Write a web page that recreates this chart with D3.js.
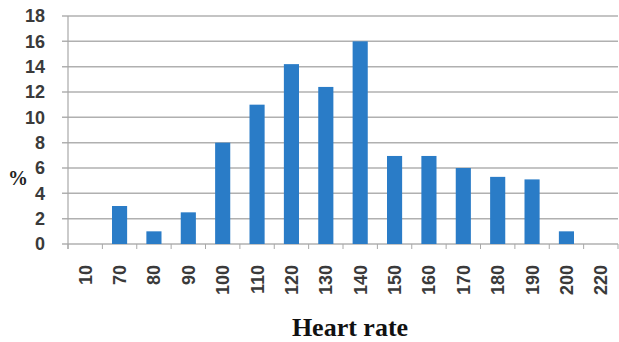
<!DOCTYPE html>
<html><head><meta charset="utf-8">
<script src="https://cdn.jsdelivr.net/npm/d3@7"></script>
<style>body{margin:0;background:#fff}svg{display:block}</style>
</head><body>
<script>
const categories = ["10","70","80","90","100","110","120","130","140","150","160","170","180","190","200","220"];
const values = [0,3,1,2.5,8,11,14.2,12.4,16,6.95,6.95,6,5.3,5.1,1,0];
const yTicks = [0,2,4,6,8,10,12,14,16,18];
const xTitle = "Heart rate";
const yTitle = "%";

const W=619,H=342;
const m={left:68,right:1,top:16,bottom:98};
const svg=d3.select("body").append("svg").attr("width",W).attr("height",H);
const x=d3.scaleBand().domain(categories).range([m.left,W-m.right]).paddingInner(0.56).paddingOuter(0.28);
const xb=d3.scaleBand().domain(categories).range([m.left,W-m.right]);
const y=d3.scaleLinear().domain([0,18]).range([H-m.bottom,m.top]);

// gridlines
svg.append("g").selectAll("line").data(yTicks).join("line")
 .attr("x1",m.left-6).attr("x2",W-m.right).attr("y1",d=>y(d)).attr("y2",d=>y(d))
 .attr("stroke","#b0b0b0").attr("stroke-width",1.5);
// y axis line
svg.append("line").attr("x1",m.left).attr("x2",m.left).attr("y1",y(18)).attr("y2",y(0)+5)
 .attr("stroke","#a8a8a8").attr("stroke-width",1.2);
// x tick marks
svg.append("g").selectAll("line").data(categories.concat(["end"])).join("line")
 .attr("x1",(d,i)=>m.left+i*xb.step()).attr("x2",(d,i)=>m.left+i*xb.step())
 .attr("y1",y(0)).attr("y2",y(0)+5).attr("stroke","#a8a8a8").attr("stroke-width",1);

// bars
svg.append("g").selectAll("rect").data(values).join("rect")
 .attr("x",(d,i)=>x(categories[i])).attr("width",x.bandwidth())
 .attr("y",d=>y(d)).attr("height",d=>y(0)-y(d)).attr("fill","#2a7cc7");

// y labels
svg.append("g").selectAll("text").data(yTicks).join("text")
 .attr("x",45).attr("y",d=>y(d)).attr("dy","0.36em").attr("text-anchor","end")
 .attr("font-family","Liberation Sans, Arial, sans-serif").attr("font-weight","bold")
 .attr("font-size",18).attr("fill","#3a3a3a").text(d=>d);
// x labels
svg.append("g").selectAll("text").data(categories).join("text")
 .attr("transform",d=>`translate(${xb(d)+xb.bandwidth()/2},${y(0)+21}) rotate(-90)`)
 .attr("dy","0.36em").attr("text-anchor","end")
 .attr("font-family","Liberation Sans, Arial, sans-serif").attr("font-weight","bold")
 .attr("font-size",18).attr("fill","#3a3a3a").text(d=>d);
// titles
svg.append("text").attr("x",350).attr("y",336).attr("text-anchor","middle")
 .attr("font-family","Liberation Serif, Times New Roman, serif").attr("font-weight","bold")
 .attr("font-size",26).attr("fill","#111").text(xTitle);
svg.append("text").attr("x",18).attr("y",185).attr("text-anchor","middle")
 .attr("font-family","Liberation Serif, Times New Roman, serif").attr("font-weight","bold")
 .attr("font-size",20).attr("fill","#222").text(yTitle);
</script>
</body></html>
